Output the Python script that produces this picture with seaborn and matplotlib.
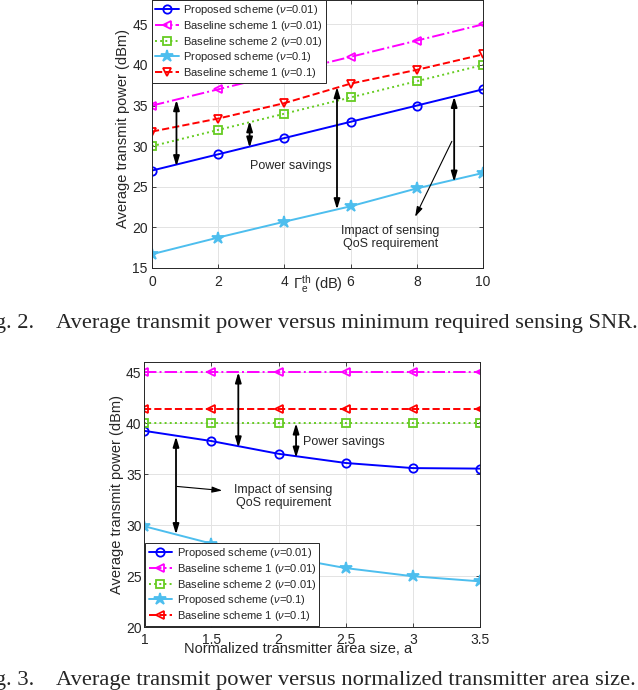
import numpy as np
import pandas as pd
import matplotlib
matplotlib.use('Agg')
import matplotlib.pyplot as plt
import seaborn as sns

# ==========================================
# Data
# ==========================================
snr_db = [0, 2, 4, 6, 8, 10]
prop_001_a = [27.0, 29.0, 31.0, 33.0, 35.0, 37.0]
base1_001_a = [35.0, 37.0, 39.0, 41.0, 43.0, 45.0]
base2_001_a = [30.0, 32.0, 34.0, 36.0, 38.0, 40.0]
prop_01_a = [16.7, 18.75, 20.7, 22.6, 24.8, 26.7]
base1_01_a = [31.8, 33.4, 35.3, 37.7, 39.4, 41.3]

area = [1, 1.5, 2, 2.5, 3, 3.5]
prop_001_b = [39.25, 38.25, 37.0, 36.1, 35.6, 35.55]
base1_001_b = [45.0, 45.0, 45.0, 45.0, 45.0, 45.0]
base2_001_b = [40.0, 40.0, 40.0, 40.0, 40.0, 40.0]
prop_01_b = [29.9, 28.2, 27.0, 25.8, 25.0, 24.5]
base1_01_b = [41.4, 41.4, 41.4, 41.4, 41.4, 41.4]

labels = ['Proposed scheme ($\\nu$=0.01)', 'Baseline scheme 1 ($\\nu$=0.01)',
          'Baseline scheme 2 ($\\nu$=0.01)', 'Proposed scheme ($\\nu$=0.1)',
          'Baseline scheme 1 ($\\nu$=0.1)']
colors = ['#0000ff', '#ff00ff', '#66cc22', '#4dbeee', '#ff0000']
styles = ['-', '-.', ':', '-', '--']
markers_a = ['o', '<', 's', '*', 'v']
markers_b = ['o', '<', 's', '*', '<']

sns.set_theme(style='ticks')
plt.rcParams['font.family'] = ['Liberation Sans', 'DejaVu Sans']
plt.rcParams['mathtext.fontset'] = 'custom'
plt.rcParams['mathtext.rm'] = 'Liberation Sans'
plt.rcParams['mathtext.it'] = 'Liberation Sans:italic'

fig = plt.figure(figsize=(6.38, 6.90), dpi=100)
ax1 = fig.add_axes([0.2382, 0.6116, 0.5188, 0.3884])
ax2 = fig.add_axes([0.2262, 0.0909, 0.5262, 0.3845])


def draw(ax, x, series, markers):
    for y, lab, c, ls, m in zip(series, labels, colors, styles, markers):
        df = pd.DataFrame({'x': x, 'y': y})
        star = m == '*'
        sns.lineplot(data=df, x='x', y='y', ax=ax, color=c, linestyle=ls,
                     linewidth=1.4, marker=m, markersize=9 if star else 6,
                     markerfacecolor=c if star else 'none',
                     markeredgecolor=c, markeredgewidth=1.3, label=lab)


def style_axes(ax):
    ax.grid(True, color='#e3e3e3', linewidth=0.7)
    ax.set_axisbelow(True)
    for s in ax.spines.values():
        s.set_color('#262626')
        s.set_linewidth(0.7)
    ax.tick_params(direction='in', top=True, right=True, length=3,
                   width=0.6, colors='#262626', labelsize=10)


def add_legend(ax, loc, pad):
    leg = ax.legend(loc=loc, fontsize=8, frameon=True, fancybox=False,
                    edgecolor='#262626', framealpha=1, borderaxespad=pad,
                    labelspacing=0.15, handlelength=2.1, handletextpad=0.4,
                    borderpad=0.3)
    leg.get_frame().set_linewidth(0.7)


def darrow(ax, x, y0, y1):
    ax.annotate('', xy=(x, y1), xytext=(x, y0),
                arrowprops=dict(arrowstyle='<|-|>,head_length=0.5,head_width=0.15',
                                color='black', lw=1.3, shrinkA=0, shrinkB=0))


def caption(label, body, y):
    serif = ['Liberation Serif', 'DejaVu Serif']
    # the page crop cuts "Fi" off the figure label
    fig.text(34 / 638, y, label, ha='right', va='baseline', fontsize=16.2, family=serif)
    fig.text(56 / 638, y, body, ha='left', va='baseline', fontsize=16.2, family=serif)


# ==========================================
# Fig. 2: power vs sensing SNR
# ==========================================
draw(ax1, snr_db, [prop_001_a, base1_001_a, base2_001_a, prop_01_a, base1_01_a], markers_a)
style_axes(ax1)
ax1.set_xlim(0, 10)
ax1.set_ylim(15, 48)
ax1.set_xticks([0, 2, 4, 6, 8, 10])
ax1.set_yticks([15, 20, 25, 30, 35, 40, 45])
ax1.tick_params(axis='x', pad=5)
ax1.tick_params(axis='y', pad=3)
ax1.set_xlabel(r'$\Gamma_{\mathrm{e}}^{\mathrm{th}}$ (dB)', fontsize=10.5, color='#262626')
ax1.xaxis.set_label_coords(0.5, -0.02)
ax1.set_ylabel('Average transmit power (dBm)', fontsize=10.5, color='#262626')
ax1.yaxis.set_label_coords(-0.065, 0.52)
add_legend(ax1, 'upper left', 0)

darrow(ax1, 0.74, 35.7, 27.5)
darrow(ax1, 2.95, 33.1, 29.8)
darrow(ax1, 5.59, 37.3, 22.2)
darrow(ax1, 9.13, 36.1, 25.6)
ax1.annotate('', xy=(7.95, 21.3), xytext=(9.06, 30.6),
             arrowprops=dict(arrowstyle='-|>,head_length=0.5,head_width=0.15',
                             color='black', lw=0.8, shrinkA=0, shrinkB=0))
ax1.text(4.2, 27.6, 'Power savings', ha='center', va='center', fontsize=9)
ax1.text(7.2, 18.7, 'Impact of sensing\nQoS requirement', ha='center',
         va='center', fontsize=9, linespacing=1.1)

# ==========================================
# Fig. 3: power vs transmitter area size
# ==========================================
draw(ax2, area, [prop_001_b, base1_001_b, base2_001_b, prop_01_b, base1_01_b], markers_b)
style_axes(ax2)
ax2.set_xlim(1, 3.5)
ax2.set_ylim(20, 46)
ax2.set_xticks([1, 1.5, 2, 2.5, 3, 3.5])
ax2.set_xticklabels(['1', '1.5', '2', '2.5', '3', '3.5'])
ax2.set_yticks([20, 25, 30, 35, 40, 45])
ax2.tick_params(axis='x', pad=4)
ax2.tick_params(axis='y', pad=2)
ax2.set_xlabel('Normalized transmitter area size, a', fontsize=10.5, color='#262626')
ax2.xaxis.set_label_coords(0.459, -0.056)
ax2.set_ylabel('Average transmit power (dBm)', fontsize=10.5, color='#262626')
ax2.yaxis.set_label_coords(-0.06, 0.5)
add_legend(ax2, 'lower left', 0.1)

darrow(ax2, 1.70, 45.0, 37.6)
darrow(ax2, 2.13, 40.0, 36.6)
darrow(ax2, 1.236, 38.7, 29.1)
ax2.annotate('', xy=(1.58, 33.4), xytext=(1.245, 33.8),
             arrowprops=dict(arrowstyle='-|>,head_length=0.5,head_width=0.15',
                             color='black', lw=0.8, shrinkA=0, shrinkB=0))
ax2.text(2.18, 38.2, 'Power savings', ha='left', va='center', fontsize=9)
ax2.text(2.035, 32.8, 'Impact of sensing\nQoS requirement', ha='center',
         va='center', fontsize=9, linespacing=1.1)

caption('Fig. 2.', 'Average transmit power versus minimum required sensing SNR.', 0.525)
caption('Fig. 3.', 'Average transmit power versus normalized transmitter area size.', 0.0075)

fig.savefig('out.png', dpi=100)
